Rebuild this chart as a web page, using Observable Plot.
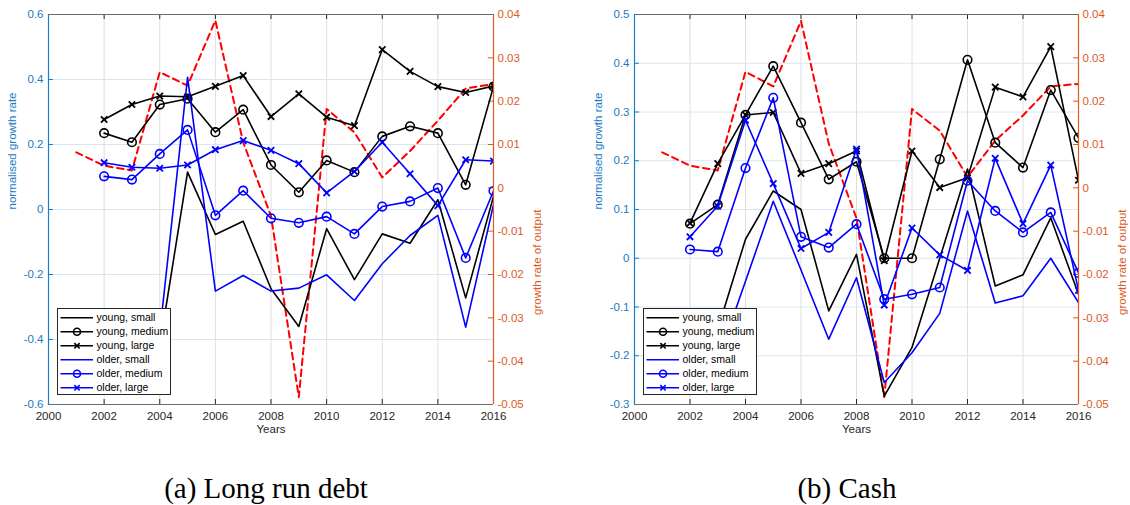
<!DOCTYPE html>
<html><head><meta charset="utf-8">
<script src="https://cdn.jsdelivr.net/npm/d3@7"></script>
<script src="https://cdn.jsdelivr.net/npm/@observablehq/plot@0.6"></script>
<style>
body{margin:0;background:#fff;}
#fig{position:relative;width:1130px;height:505px;overflow:hidden;font-family:"Liberation Sans",Arial,sans-serif;}
.panel{position:absolute;top:0;}
.caption{position:absolute;top:473px;font-family:"Liberation Serif","DejaVu Serif",serif;font-size:29px;color:#000;transform:translateX(-50%);white-space:nowrap;line-height:31px;}
</style></head><body><div id="fig"></div>
<script>
// ---------- data ----------
const years = [2002,2003,2004,2005,2006,2007,2008,2009,2010,2011,2012,2013,2014,2015,2016];
const outputYears = [2001,2002,2003,2004,2005,2006,2007,2008,2009,2010,2011,2012,2013,2014,2015,2016];
const xTicks = [2000,2002,2004,2006,2008,2010,2012,2014,2016];
const seriesNames = ["young, small","young, medium","young, large","older, small","older, medium","older, large"];

// (a) Long run debt
const debtYoungSmall  = [-0.48,-0.52,-0.42,0.115,-0.077,-0.036,-0.244,-0.36,-0.059,-0.216,-0.075,-0.104,0.03,-0.272,0.04];
const debtYoungMedium = [0.235,0.207,0.323,0.341,0.238,0.307,0.137,0.053,0.151,0.115,0.225,0.256,0.235,0.076,0.378];
const debtYoungLarge  = [0.277,0.323,0.349,0.347,0.379,0.412,0.286,0.356,0.284,0.258,0.492,0.425,0.378,0.36,0.38];
const debtOlderSmall  = [-0.44,-0.47,-0.38,0.407,-0.251,-0.203,-0.251,-0.242,-0.201,-0.28,-0.167,-0.08,-0.018,-0.362,0.015];
const debtOlderMedium = [0.102,0.092,0.171,0.245,-0.018,0.058,-0.027,-0.041,-0.022,-0.075,0.009,0.025,0.066,-0.149,0.057];
const debtOlderLarge  = [0.144,0.130,0.127,0.137,0.184,0.212,0.182,0.141,0.051,0.117,0.207,0.110,0.012,0.153,0.149];
const debtOutput      = [0.0082,0.0051,0.004,0.0267,0.0236,0.0386,0.0105,-0.0065,-0.0483,0.0182,0.0128,0.0024,0.0085,0.0155,0.0229,0.024];
const debtYTicks = [-0.6,-0.4,-0.2,0,0.2,0.4,0.6];

// (b) Cash
const cashYoungSmall  = [-0.2,-0.146,0.039,0.138,0.1,-0.108,0.008,-0.283,-0.183,0.0,0.183,-0.057,-0.034,0.083,-0.074];
const cashYoungMedium = [0.071,0.11,0.294,0.394,0.278,0.162,0.198,0.0,0.0,0.203,0.407,0.237,0.186,0.345,0.247];
const cashYoungLarge  = [0.072,0.194,0.294,0.299,0.174,0.194,0.22,-0.005,0.22,0.145,0.165,0.351,0.331,0.434,0.16];
const cashOlderSmall  = [-0.26,-0.21,-0.047,0.117,-0.024,-0.166,-0.04,-0.255,-0.194,-0.113,0.097,-0.092,-0.077,0.0,-0.091];
const cashOlderMedium = [0.018,0.0135,0.185,0.329,0.044,0.022,0.07,-0.084,-0.074,-0.06,0.159,0.097,0.053,0.094,-0.03];
const cashOlderLarge  = [0.044,0.107,0.283,0.153,0.02,0.053,0.224,-0.096,0.062,0.007,-0.025,0.205,0.071,0.191,-0.066];
const cashOutput      = [0.0082,0.0051,0.004,0.0268,0.0234,0.0385,0.0102,-0.007,-0.0483,0.0182,0.0132,0.0025,0.0109,0.0167,0.0234,0.024];
const cashYTicks = [-0.3,-0.2,-0.1,0,0.1,0.2,0.3,0.4,0.5];

const outputTicks = [-0.05,-0.04,-0.03,-0.02,-0.01,0,0.01,0.02,0.03,0.04];

// ---------- styles ----------
const BLUE_AX = "#1a7cc4", ORANGE_AX = "#db5a1f", TXT = "#262626";
const seriesColor = ["#000","#000","#000","#0000ff","#0000ff","#0000ff"];
const seriesMarker = [null,"circle","times",null,"circle","times"];
const FS = 11.5;

const fmt = v => { const r = Math.round(v * 100) / 100; return r === 0 ? "0" : String(r); };

function panel(el, {values, output, yDomain, yTicks, rDomain, marginLeft, marginRight, left}) {
  const W = 565, H = 440, mt = 14, mb = 36;
  const pw = W - marginLeft - marginRight, ph = H - mt - mb;
  const [y0, y1] = yDomain, [r0, r1] = rDomain;
  const toL = r => y0 + (r - r0) * (y1 - y0) / (r1 - r0);
  const fromL = v => r0 + (v - y0) * (r1 - r0) / (y1 - y0);

  const marks = [
    Plot.gridX(xTicks, {stroke: "#dedede", strokeOpacity: 1}),
    Plot.gridY(yTicks, {stroke: "#d8e6f3", strokeOpacity: 1}),
    Plot.tickX(xTicks, {x: d => d, insetTop: ph - 5, stroke: TXT}),
    Plot.tickX(xTicks, {x: d => d, insetBottom: ph - 5, stroke: TXT}),
    Plot.tickY(yTicks, {y: d => d, insetRight: pw - 5, stroke: BLUE_AX}),
    Plot.tickY(outputTicks.map(toL), {y: d => d, insetLeft: pw - 5, stroke: ORANGE_AX}),
    Plot.ruleY([y1], {stroke: "#6b6b6b"}),
    Plot.ruleY([y0], {stroke: "#6b6b6b"}),
  ];
  marks.push(Plot.line(output.map((v, i) => ({year: outputYears[i], value: toL(v)})),
    {x: "year", y: "value", stroke: "#ff0000", strokeWidth: 2, strokeDasharray: "6.5,4.5", clip: true}));
  values.forEach((vals, k) => {
    const rows = vals.map((v, i) => ({year: years[i], value: v}));
    marks.push(Plot.line(rows, {x: "year", y: "value", stroke: seriesColor[k], strokeWidth: 1.6, clip: true}));
    if (seriesMarker[k] === "circle")
      marks.push(Plot.dot(rows, {x: "year", y: "value", r: 4.3, stroke: seriesColor[k], fill: "none", strokeWidth: 1.6, clip: true}));
    if (seriesMarker[k] === "times")
      marks.push(Plot.dot(rows, {x: "year", y: "value", symbol: "times", r: 3, stroke: seriesColor[k], strokeWidth: 1.8, clip: true}));
  });
  marks.push(
    Plot.ruleX([xTicks[0]], {stroke: BLUE_AX, strokeWidth: 1.2}),
    Plot.ruleX([xTicks[xTicks.length - 1]], {stroke: ORANGE_AX, strokeWidth: 1.2}),
    Plot.axisX(xTicks, {tickSize: 0, tickPadding: 7, fill: TXT, fontSize: FS, tickFormat: d => String(d), label: null}),
    Plot.axisY(yTicks, {anchor: "left", tickSize: 0, tickPadding: 5, fill: BLUE_AX, fontSize: FS, tickFormat: v => { const r = Math.round(v * 10) / 10; return r === 0 ? "0" : String(r); }, label: null}),
    Plot.axisY(outputTicks.map(toL), {anchor: "right", tickSize: 0, tickPadding: 4, fill: ORANGE_AX, fontSize: FS, tickFormat: v => fmt(fromL(v)), label: null}),
    Plot.text(["normalised growth rate"], {frameAnchor: "left", rotate: -90, dx: -36, fill: BLUE_AX, fontSize: FS}),
    Plot.text(["growth rate of output"], {frameAnchor: "right", rotate: -90, dx: 44, fill: ORANGE_AX, fontSize: FS}),
    Plot.text(["Years"], {frameAnchor: "bottom", dy: 28, fill: TXT, fontSize: FS})
  );

  const svg = Plot.plot({
    width: W, height: H, marginLeft, marginRight, marginTop: mt, marginBottom: mb,
    style: {fontFamily: '"Liberation Sans", Arial, sans-serif', background: "transparent", overflow: "visible"},
    x: {domain: [xTicks[0], xTicks[xTicks.length - 1]], axis: null},
    y: {domain: yDomain, axis: null},
    marks
  });
  const wrap = document.createElement("div");
  wrap.className = "panel";
  wrap.style.left = left + "px";
  wrap.style.width = W + "px";
  wrap.appendChild(svg);
  el.appendChild(wrap);

  const lg = d3.select(wrap).append("svg")
    .attr("width", 115).attr("height", 88)
    .style("position", "absolute")
    .style("left", (marginLeft + 8.5) + "px").style("top", "307.5px");
  lg.append("rect").attr("x", 0.5).attr("y", 0.5).attr("width", 113).attr("height", 86)
    .attr("fill", "#fff").attr("stroke", "#262626").attr("stroke-width", 1);
  seriesNames.forEach((name, k) => {
    const cy = 9.8 + k * 14;
    lg.append("line").attr("x1", 3.5).attr("x2", 36).attr("y1", cy).attr("y2", cy)
      .attr("stroke", seriesColor[k]).attr("stroke-width", 1.6);
    if (seriesMarker[k] === "circle")
      lg.append("circle").attr("cx", 20).attr("cy", cy).attr("r", 3.5).attr("fill", "none")
        .attr("stroke", seriesColor[k]).attr("stroke-width", 1.6);
    if (seriesMarker[k] === "times")
      lg.append("path").attr("d", d3.symbol(d3.symbolTimes, 20)()).attr("transform", `translate(20,${cy})`)
        .attr("fill", "none").attr("stroke", seriesColor[k]).attr("stroke-width", 1.6);
    lg.append("text").attr("x", 39.5).attr("y", cy).attr("dy", "0.35em")
      .attr("font-size", 10.5).attr("fill", "#000")
      .attr("font-family", '"Liberation Sans", Arial, sans-serif').text(name);
  });
}

const fig = document.getElementById("fig");
panel(fig, {
  values: [debtYoungSmall, debtYoungMedium, debtYoungLarge, debtOlderSmall, debtOlderMedium, debtOlderLarge],
  output: debtOutput, yDomain: [-0.6, 0.6], yTicks: debtYTicks, rDomain: [-0.05, 0.04],
  marginLeft: 48, marginRight: 72, left: 0
});
panel(fig, {
  values: [cashYoungSmall, cashYoungMedium, cashYoungLarge, cashOlderSmall, cashOlderMedium, cashOlderLarge],
  output: cashOutput, yDomain: [-0.3, 0.5], yTicks: cashYTicks, rDomain: [-0.05, 0.04],
  marginLeft: 69, marginRight: 52, left: 565
});

const captions = [["(a) Long run debt", 266], ["(b) Cash", 847]];
captions.forEach(([t, cx]) => {
  const d = document.createElement("div");
  d.className = "caption"; d.style.left = cx + "px"; d.textContent = t;
  fig.appendChild(d);
});
</script></body></html>
